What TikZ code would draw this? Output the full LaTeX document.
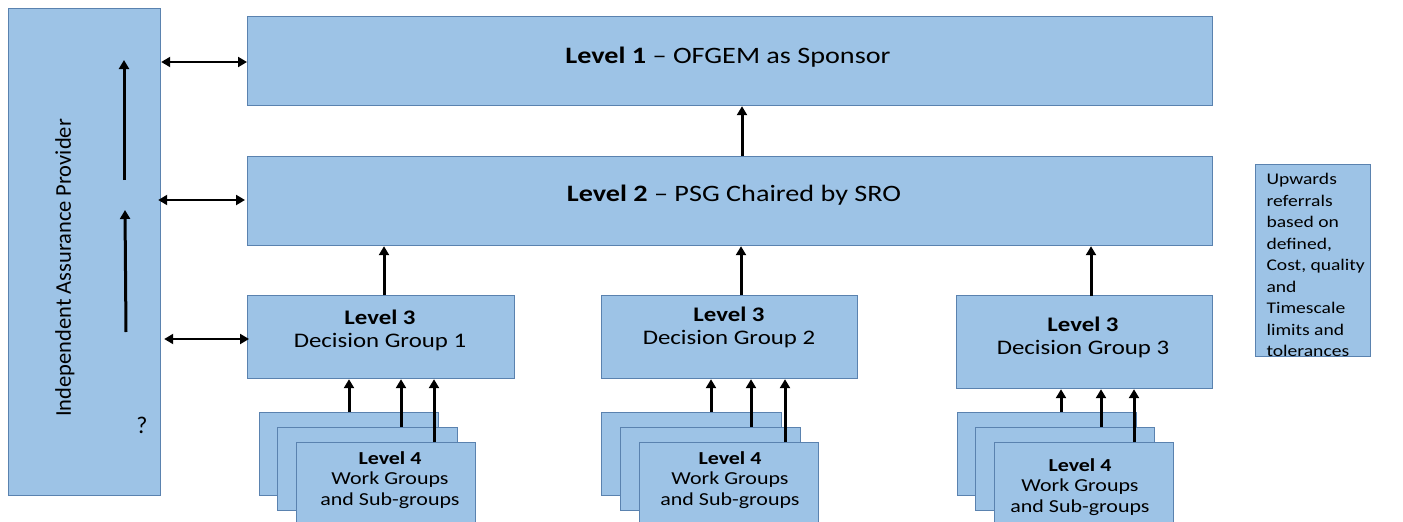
\documentclass[tikz,border=0pt]{standalone}
\usepackage{fontspec}
\setmainfont{Carlito}[FakeStretch=1.2]
\newfontfamily\iapfont{Carlito}
\usetikzlibrary{arrows.meta}
\definecolor{boxc}{RGB}{157,195,230}
\definecolor{bordc}{RGB}{90,130,175}
\tikzset{
  box/.style={draw=bordc, fill=boxc, line width=1.2pt, inner sep=0pt, align=center, anchor=north west},
  uparrow/.style={line width=3pt, -{Triangle[length=9pt,width=10pt]}},
  dblarrow/.style={line width=2pt, {Triangle[length=9pt,width=10pt]}-{Triangle[length=9pt,width=10pt]}},
}
\begin{document}
\begin{tikzpicture}[x=1pt,y=-1pt]
\useasboundingbox (0,0) rectangle (1403,522);
% boxes
\node[box, minimum width=152pt, minimum height=487pt] (iap) at (8,8) {};
\node[box, minimum width=965pt, minimum height=89pt] (l1) at (247,16) {};
\node[box, minimum width=965pt, minimum height=89pt] (l2) at (247,156) {};
\node[box, minimum width=267pt, minimum height=83pt] (dg1) at (247,295) {};
\node[box, minimum width=256pt, minimum height=83pt] (dg2) at (601,295) {};
\node[box, minimum width=256pt, minimum height=93pt] (dg3) at (956,295) {};
\node[box, minimum width=115pt, minimum height=192pt] (note) at (1255,164) {};
% level 4 stacks
\node[box, minimum width=179pt, minimum height=83pt] (wa1) at (259,412) {};
\node[box, minimum width=180pt, minimum height=83pt] (wb1) at (277,427) {};
\node[box, minimum width=179pt, minimum height=84pt] (wc1) at (296,442) {};
\node[box, minimum width=180pt, minimum height=83pt] (wa2) at (601,412) {};
\node[box, minimum width=180pt, minimum height=83pt] (wb2) at (620,427) {};
\node[box, minimum width=179pt, minimum height=84pt] (wc2) at (639,442) {};
\node[box, minimum width=179pt, minimum height=83pt] (wa3) at (957,412) {};
\node[box, minimum width=179pt, minimum height=83pt] (wb3) at (975,427) {};
\node[box, minimum width=179pt, minimum height=84pt] (wc3) at (994,442) {};
% texts
\node[font=\fontsize{23.5}{28}\selectfont] (t1) at (728,57) {\textbf{Level 1} -- OFGEM as Sponsor};
\node[font=\fontsize{23.5}{28}\selectfont] (t2) at (734,195) {\textbf{Level 2} -- PSG Chaired by SRO};
\node[font=\fontsize{20.7}{23}\selectfont, align=center] (t3a) at (380,330) {\textbf{Level 3}\\Decision Group 1};
\node[font=\fontsize{20.7}{23}\selectfont, align=center] (t3b) at (729,327) {\textbf{Level 3}\\Decision Group 2};
\node[font=\fontsize{20.7}{23}\selectfont, align=center] (t3c) at (1083,337) {\textbf{Level 3}\\Decision Group 3};
\node[font=\fontsize{18.3}{20.5}\selectfont, align=center] (t4a) at (390,480) {\textbf{Level 4}\\Work Groups\\and Sub-groups};
\node[font=\fontsize{18.3}{20.5}\selectfont, align=center] (t4b) at (730,480) {\textbf{Level 4}\\Work Groups\\and Sub-groups};
\node[font=\fontsize{18.3}{20.5}\selectfont, align=center] (t4c) at (1080,487) {\textbf{Level 4}\\Work Groups\\and Sub-groups};
\node[font=\fontsize{16.3}{21.5}\selectfont, align=left, anchor=north west] (tn) at (1263,170) {Upwards\\referrals\\based on\\defined,\\Cost, quality\\and\\Timescale\\limits and\\tolerances};
\node[font=\iapfont\fontsize{22.5}{26}\selectfont, rotate=90] (tiap) at (65,268) {Independent Assurance Provider};
\node[font=\iapfont\fontsize{24}{26}\selectfont] (q) at (142,425) {?};
% double arrows
\coordinate (d1) at (0,62);
\coordinate (d2) at (0,200);
\coordinate (d3) at (0,339);
\draw[dblarrow] (iap.east |- d1) -- (l1.west |- d1);
\draw[dblarrow] ([xshift=-3pt]iap.east |- d2) -- ([xshift=-2pt]l2.west |- d2);
\draw[dblarrow] ([xshift=3pt]iap.east |- d3) -- ([xshift=2pt]dg1.west |- d3);
% arrows inside IAP
\coordinate (ia1) at (124,180);
\coordinate (ia2) at (124,60);
\coordinate (ib1) at (126,332);
\coordinate (ib2) at (125,210);
\draw[uparrow] (ia1) -- (ia2);
\draw[uparrow] (ib1) -- (ib2);
% vertical arrows
\coordinate (x0) at (742,0);
\coordinate (x1) at (384,0);
\coordinate (x2) at (741,0);
\coordinate (x3) at (1091,0);
\draw[uparrow] (l2.north -| x0) -- (l1.south -| x0);
\draw[uparrow] (dg1.north -| x1) -- (l2.south -| x1);
\draw[uparrow] (dg2.north -| x2) -- (l2.south -| x2);
\draw[uparrow] ([yshift=-1pt]dg3.north -| x3) -- (l2.south -| x3);
% level 4 arrows
\foreach \xa/\xb/\xc/\n in {349/401/434/1, 711/751/785/2, 1061/1101/1134/3}{
  \coordinate (ca) at (\xa,0);
  \coordinate (cb) at (\xb,0);
  \coordinate (cc) at (\xc,0);
  \draw[uparrow] (wa\n.north -| ca) -- (dg\n.south -| ca);
  \draw[uparrow] (wb\n.north -| cb) -- (dg\n.south -| cb);
  \draw[uparrow] (wc\n.north -| cc) -- (dg\n.south -| cc);
}
\end{tikzpicture}
\end{document}
